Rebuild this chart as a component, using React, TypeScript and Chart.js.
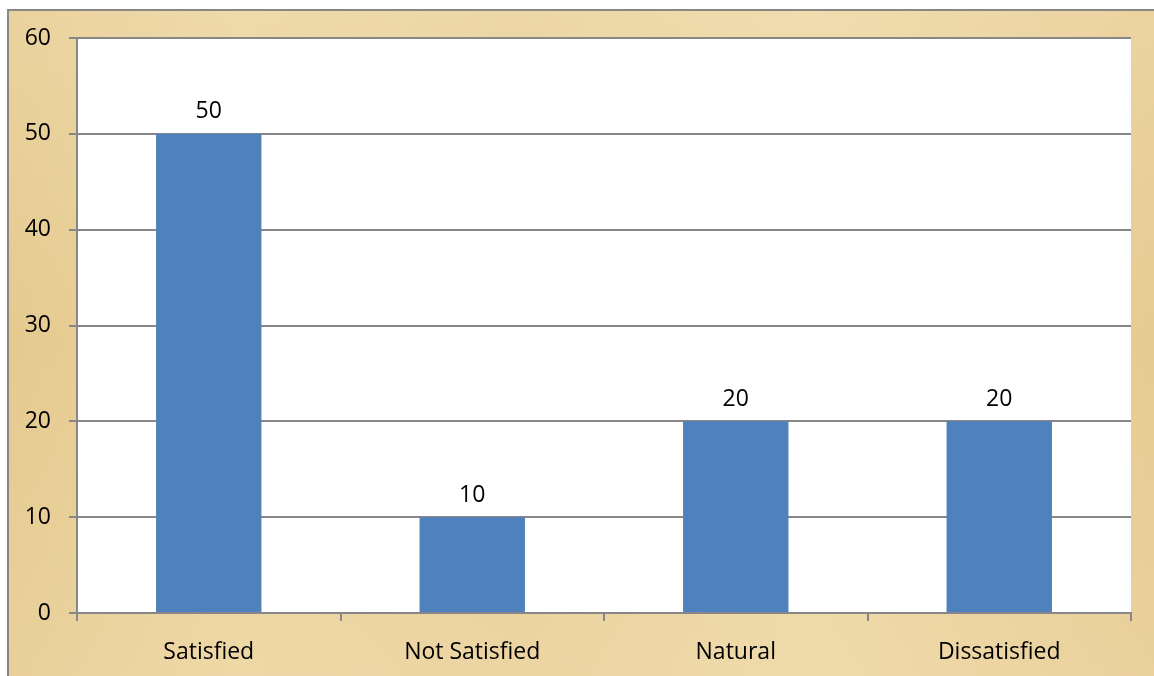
import React, { useEffect, useRef } from "react";
import { Chart, registerables } from "chart.js";

Chart.register(...registerables);

const categories = ["Satisfied", "Not Satisfied", "Natural", "Dissatisfied"];
const responses = [50, 10, 20, 20];
const yTicks = [0, 10, 20, 30, 40, 50, 60];

const FONT = "'Open Sans', sans-serif";
const FONT_SIZE = 23;
const GRID = "#878787";
const BAR = "#4F81BD";

// Paper-like frame behind the plot, white plot area on top
const framePlugin = {
  id: "frame",
  beforeDraw(chart: any) {
    const { ctx, width, height, chartArea } = chart;
    ctx.save();
    ctx.fillStyle = "#ffffff";
    ctx.fillRect(0, 0, width, height);

    const g = ctx.createLinearGradient(8, 0, width, 0);
    g.addColorStop(0, "#e5ca8f");
    g.addColorStop(0.2, "#ebd39d");
    g.addColorStop(0.45, "#e8cf98");
    g.addColorStop(0.7, "#edd6a3");
    g.addColorStop(1, "#e6cb91");
    ctx.fillStyle = g;
    ctx.fillRect(8, 10, width - 8, height - 10);

    const v = ctx.createLinearGradient(0, 10, 0, height);
    v.addColorStop(0, "rgba(255,245,220,0.2)");
    v.addColorStop(0.5, "rgba(255,245,220,0)");
    v.addColorStop(1, "rgba(255,245,220,0.15)");
    ctx.fillStyle = v;
    ctx.fillRect(8, 10, width - 8, height - 10);

    ctx.strokeStyle = GRID;
    ctx.lineWidth = 2;
    ctx.beginPath();
    ctx.moveTo(8, height);
    ctx.lineTo(8, 10);
    ctx.lineTo(width, 10);
    ctx.stroke();

    ctx.fillStyle = "#ffffff";
    ctx.fillRect(
      chartArea.left,
      chartArea.top,
      chartArea.right - chartArea.left,
      chartArea.bottom - chartArea.top
    );
    ctx.restore();
  },
};

// Value labels above each bar
const valueLabels = {
  id: "valueLabels",
  afterDatasetsDraw(chart: any) {
    const { ctx } = chart;
    const meta = chart.getDatasetMeta(0);
    const data = chart.data.datasets[0].data;
    ctx.save();
    ctx.fillStyle = "#000";
    ctx.font = `${FONT_SIZE}px ${FONT}`;
    ctx.textAlign = "center";
    ctx.textBaseline = "middle";
    meta.data.forEach((bar: any, i: number) => {
      ctx.fillText(String(data[i]), bar.x, bar.y - 22);
    });
    ctx.restore();
  },
};

export default function App() {
  const ref = useRef<HTMLCanvasElement>(null);

  useEffect(() => {
    if (!ref.current) return;
    const chart = new Chart(ref.current, {
      type: "bar",
      data: {
        labels: categories,
        datasets: [
          {
            data: responses,
            backgroundColor: BAR,
            borderWidth: 0,
            barPercentage: 0.4,
            categoryPercentage: 1,
          },
        ],
      },
      options: {
        responsive: false,
        animation: false,
        layout: { padding: { left: 0, top: 38, right: 23, bottom: 0 } },
        plugins: {
          legend: { display: false },
          tooltip: { enabled: false },
        },
        scales: {
          x: {
            offset: true,
            afterFit(scale: any) {
              scale.height = 63;
            },
            grid: {
              offset: true,
              drawOnChartArea: false,
              drawTicks: true,
              tickLength: 8,
              color: GRID,
              lineWidth: 2,
            },
            border: { color: GRID, width: 2 },
            ticks: {
              color: "#000",
              font: { family: FONT, size: FONT_SIZE },
              padding: 18,
              maxRotation: 0,
            },
          },
          y: {
            min: 0,
            max: 60,
            afterFit(scale: any) {
              scale.width = 77;
            },
            afterBuildTicks(scale: any) {
              scale.ticks = yTicks.map((v) => ({ value: v }));
            },
            grid: {
              color: GRID,
              lineWidth: 2,
              tickLength: 8,
            },
            border: { color: GRID, width: 2 },
            ticks: {
              color: "#000",
              font: { family: FONT, size: FONT_SIZE },
              padding: 18,
            },
          },
        },
      },
      plugins: [framePlugin, valueLabels],
    });
    return () => chart.destroy();
  }, []);

  return (
    <div style={{ position: "absolute", left: 0, top: 0, width: 1154, height: 676 }}>
      <canvas ref={ref} width={1154} height={676} />
    </div>
  );
}
